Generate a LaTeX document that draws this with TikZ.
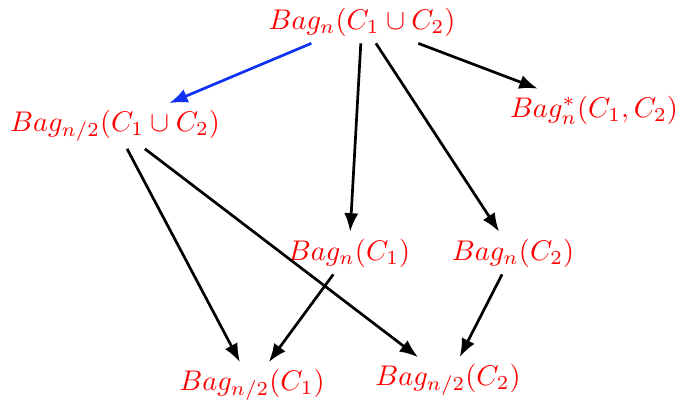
\documentclass[tikz,border=0pt]{standalone}
\usepackage{amsmath,amssymb}
\usepackage{tikz}
\usetikzlibrary{arrows.meta,positioning}
\definecolor{bagblue}{RGB}{15,50,245}

\begin{document}
\begin{tikzpicture}[
  x=0.01236cm, y=-0.01236cm,
  bag/.style={text=red, inner sep=1pt, outer sep=1.5pt},
  arr/.style={-{Latex[length=6.5pt,width=5pt]}, line width=0.95pt},
  split/.style={arr, draw=bagblue},
]
\useasboundingbox (0,0) rectangle (680,400);

% --- Top ---
\node[bag] (root) at (362,22) {$Bag_n(C_1 \cup C_2)$};

% --- Middle row ---
\node[bag] (half) at (115,126) {$Bag_{n/2}(C_1 \cup C_2)$};
\node[bag] (star) at (594,110) {$Bag^*_n(C_1, C_2)$};
\node[bag] (bagone) at (349,253) {$Bag_n(C_1)$};
\node[bag] (bagtwo) at (513,253) {$Bag_n(C_2)$};

% --- Bottom row ---
\node[bag] (halfone) at (252,385) {$Bag_{n/2}(C_1)$};
\node[bag] (halftwo) at (448,380) {$Bag_{n/2}(C_2)$};

% --- Arrows ---
\draw[split] (root) -- (half);
\draw[arr] (root) -- (star);
\draw[arr] (root) -- (bagone);
\draw[arr] (root) -- (bagtwo);
\draw[arr] (half) -- (halfone);
\draw[arr] (half) -- (halftwo);
\draw[arr] (bagone) -- (halfone);
\draw[arr] (bagtwo) -- (halftwo);
\end{tikzpicture}
\end{document}
